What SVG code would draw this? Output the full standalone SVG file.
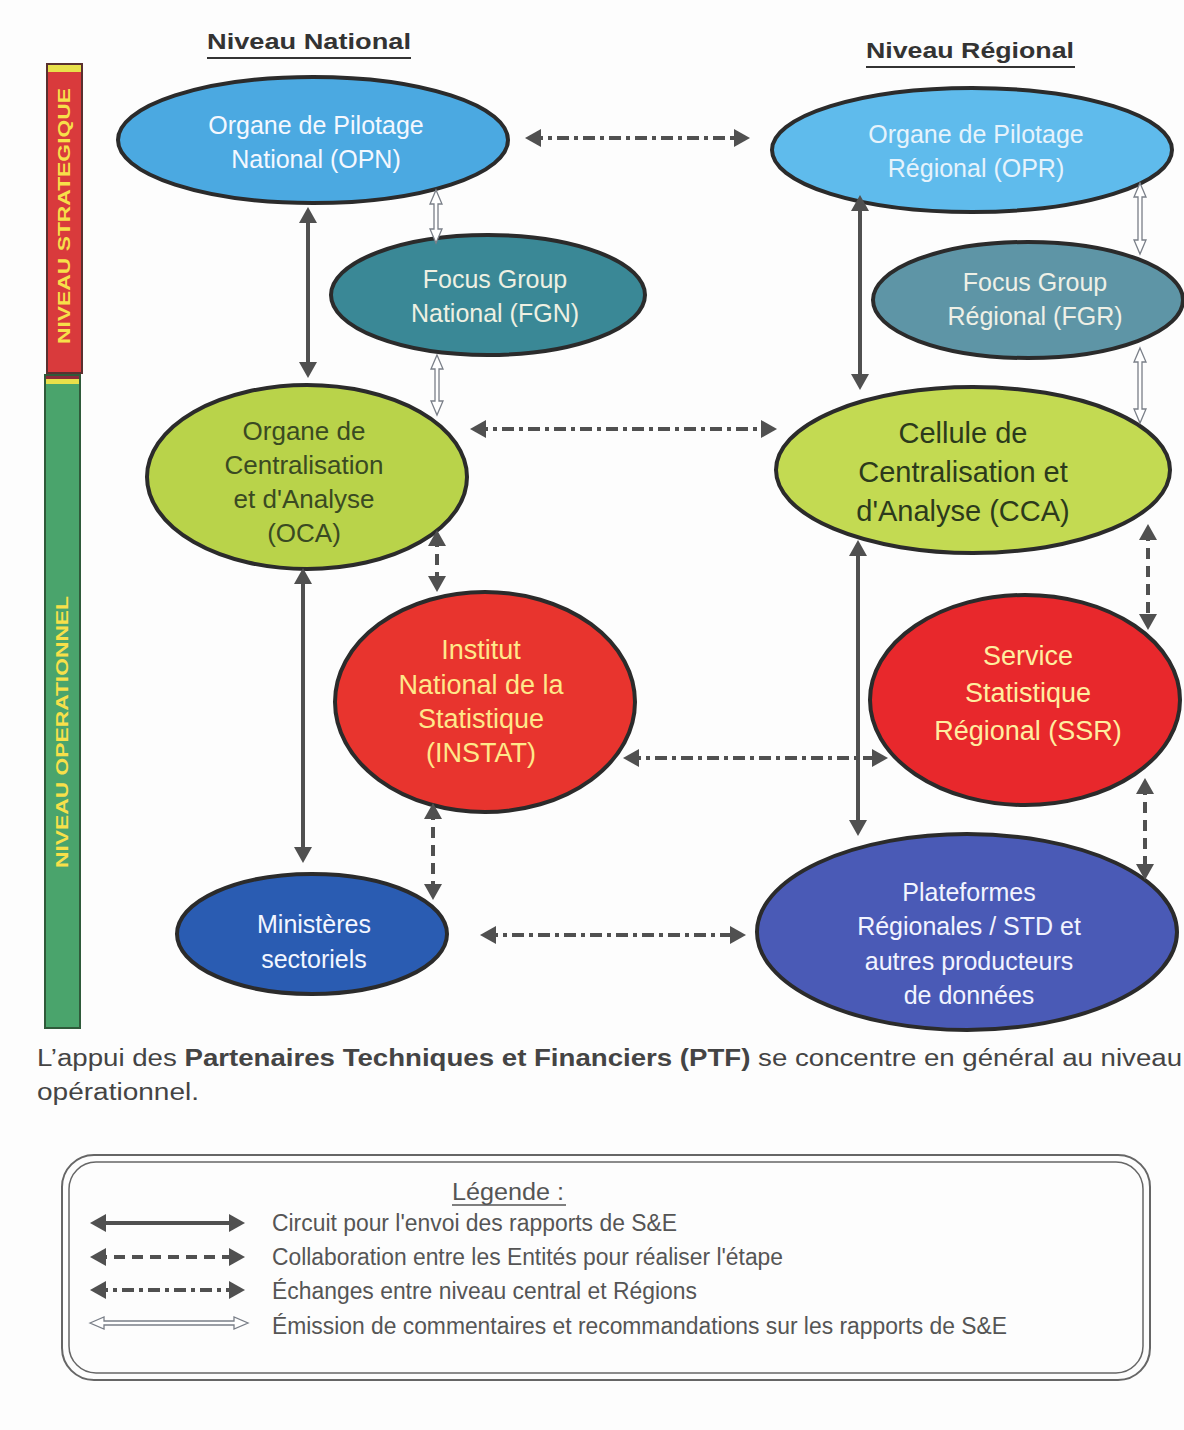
<svg xmlns="http://www.w3.org/2000/svg" width="1184" height="1430" viewBox="0 0 1184 1430">
  <defs>
    <style>
      .node { stroke: #2b2b2b; stroke-width: 4; }
      .nt { font-family: "Liberation Sans", Arial, sans-serif; text-anchor: middle; }
      .hdr { font-family: "Liberation Sans", Arial, sans-serif; font-weight: bold; font-size: 22px; fill: #333; text-anchor: middle; }
      .bar { font-family: "Liberation Sans", Arial, sans-serif; font-weight: bold; font-size: 16px; fill: #f7e04a; text-anchor: middle; }
      .solid { stroke: #505050; stroke-width: 4; fill: none; }
      .dash { stroke: #505050; stroke-width: 4; fill: none; stroke-dasharray: 11 7; }
      .dashdot { stroke: #505050; stroke-width: 4; fill: none; stroke-dasharray: 12 5 4 5; }
      .hollow { fill: #ffffff; stroke: #7a7f88; stroke-width: 1.3; }
      .leg { font-family: "Liberation Sans", Arial, sans-serif; font-size: 23px; fill: #555; }
      .para { font-family: "Liberation Sans", Arial, sans-serif; font-size: 23px; fill: #444; }
    </style>
    <marker id="ah" viewBox="0 0 16 18" refX="10" refY="9" markerWidth="16" markerHeight="18" markerUnits="userSpaceOnUse" orient="auto-start-reverse">
      <path d="M0,0 L16,9 L0,18 z" fill="#505050"/>
    </marker>
  </defs>

  <rect x="0" y="0" width="1184" height="1430" fill="#fdfdfd"/>

  <!-- Side bars -->
  <g id="bar-strategique">
    <rect x="47" y="64" width="35" height="309" fill="#d93a3c" stroke="#5a3030" stroke-width="2"/>
    <rect x="48" y="65" width="33" height="7" fill="#e8e04a"/>
    <text class="bar" transform="translate(70,216) rotate(-90)" textLength="256" lengthAdjust="spacingAndGlyphs">NIVEAU STRATEGIQUE</text>
  </g>
  <g id="bar-operationnel">
    <rect x="45" y="375" width="35" height="653" fill="#4aa46c" stroke="#2f5a3a" stroke-width="2"/>
    <rect x="46" y="376" width="33" height="3" fill="#8a2a3a"/>
    <rect x="46" y="379" width="33" height="5" fill="#e8e04a"/>
    <text class="bar" transform="translate(68,732) rotate(-90)" textLength="272" lengthAdjust="spacingAndGlyphs">NIVEAU OPERATIONNEL</text>
  </g>

  <!-- Headers -->
  <g id="hdr-national">
    <text class="hdr" x="309" y="49" textLength="204" lengthAdjust="spacingAndGlyphs">Niveau National</text>
    <line x1="207" y1="58" x2="411" y2="58" stroke="#333" stroke-width="2"/>
  </g>
  <g id="hdr-regional">
    <text class="hdr" x="970" y="58" textLength="208" lengthAdjust="spacingAndGlyphs">Niveau Régional</text>
    <line x1="866" y1="67" x2="1075" y2="67" stroke="#333" stroke-width="2"/>
  </g>

  <!-- Nodes -->
  <g id="opn">
    <ellipse class="node" cx="313" cy="140" rx="195" ry="63" fill="#4ba9e1"/>
    <text class="nt" font-size="25" fill="#f4f8ff"><tspan x="316" y="134">Organe de Pilotage</tspan><tspan x="316" y="168">National (OPN)</tspan></text>
  </g>
  <g id="opr">
    <ellipse class="node" cx="972" cy="150" rx="200" ry="62" fill="#5fbbec"/>
    <text class="nt" font-size="25" fill="#e6f3fc"><tspan x="976" y="143">Organe de Pilotage</tspan><tspan x="976" y="177">Régional (OPR)</tspan></text>
  </g>
  <g id="fgn">
    <ellipse class="node" cx="488" cy="295" rx="157" ry="60" fill="#3a8896"/>
    <text class="nt" font-size="25" fill="#eef0e2"><tspan x="495" y="288">Focus Group</tspan><tspan x="495" y="322">National (FGN)</tspan></text>
  </g>
  <g id="fgr">
    <ellipse class="node" cx="1028" cy="300" rx="155" ry="58" fill="#5e95a6"/>
    <text class="nt" font-size="25" fill="#eef0e6"><tspan x="1035" y="291">Focus Group</tspan><tspan x="1035" y="325">Régional (FGR)</tspan></text>
  </g>
  <g id="oca">
    <ellipse class="node" cx="307" cy="477" rx="160" ry="92" fill="#b9d34a"/>
    <text class="nt" font-size="26" fill="#3a4a22"><tspan x="304" y="440">Organe de</tspan><tspan x="304" y="474">Centralisation</tspan><tspan x="304" y="508">et d'Analyse</tspan><tspan x="304" y="542">(OCA)</tspan></text>
  </g>
  <g id="cca">
    <ellipse class="node" cx="973" cy="470" rx="197" ry="83" fill="#c3da52"/>
    <text class="nt" font-size="29" fill="#2c3a1c"><tspan x="963" y="443">Cellule de</tspan><tspan x="963" y="482">Centralisation et</tspan><tspan x="963" y="521">d'Analyse (CCA)</tspan></text>
  </g>
  <g id="instat">
    <ellipse class="node" cx="485" cy="702" rx="150" ry="110" fill="#e8342e"/>
    <text class="nt" font-size="27" fill="#ffe88a"><tspan x="481" y="659">Institut</tspan><tspan x="481" y="694">National de la</tspan><tspan x="481" y="728">Statistique</tspan><tspan x="481" y="762">(INSTAT)</tspan></text>
  </g>
  <g id="ssr">
    <ellipse class="node" cx="1025" cy="700" rx="155" ry="105" fill="#e8282c"/>
    <text class="nt" font-size="27" fill="#ffeea0"><tspan x="1028" y="665">Service</tspan><tspan x="1028" y="702">Statistique</tspan><tspan x="1028" y="740">Régional (SSR)</tspan></text>
  </g>
  <g id="ministeres">
    <ellipse class="node" cx="312" cy="934" rx="135" ry="60" fill="#2a5cb2"/>
    <text class="nt" font-size="25" fill="#f2f6ff"><tspan x="314" y="933">Ministères</tspan><tspan x="314" y="968">sectoriels</tspan></text>
  </g>
  <g id="plateformes">
    <ellipse class="node" cx="967" cy="932" rx="210" ry="98" fill="#4a5ab6"/>
    <text class="nt" font-size="25" fill="#f2f4ff"><tspan x="969" y="901">Plateformes</tspan><tspan x="969" y="935">Régionales / STD et</tspan><tspan x="969" y="970">autres producteurs</tspan><tspan x="969" y="1004">de données</tspan></text>
  </g>

  <!-- Connectors -->
  <g id="connectors">
    <line class="dashdot" x1="531" y1="138" x2="744" y2="138" marker-start="url(#ah)" marker-end="url(#ah)"/>
    <line class="solid" x1="308" y1="213" x2="308" y2="372" marker-start="url(#ah)" marker-end="url(#ah)"/>
    <line class="solid" x1="860" y1="201" x2="860" y2="384" marker-start="url(#ah)" marker-end="url(#ah)"/>
    <line class="dashdot" x1="476" y1="429" x2="771" y2="429" marker-start="url(#ah)" marker-end="url(#ah)"/>
    <line class="dash" x1="437" y1="536" x2="437" y2="586" marker-start="url(#ah)" marker-end="url(#ah)"/>
    <line class="solid" x1="303" y1="574" x2="303" y2="857" marker-start="url(#ah)" marker-end="url(#ah)"/>
    <line class="dash" x1="433" y1="809" x2="433" y2="894" marker-start="url(#ah)" marker-end="url(#ah)"/>
    <line class="dashdot" x1="629" y1="758" x2="882" y2="758" marker-start="url(#ah)" marker-end="url(#ah)"/>
    <line class="solid" x1="858" y1="546" x2="858" y2="830" marker-start="url(#ah)" marker-end="url(#ah)"/>
    <line class="dash" x1="1148" y1="530" x2="1148" y2="624" marker-start="url(#ah)" marker-end="url(#ah)"/>
    <line class="dash" x1="1145" y1="784" x2="1145" y2="874" marker-start="url(#ah)" marker-end="url(#ah)"/>
    <line class="dashdot" x1="486" y1="935" x2="740" y2="935" marker-start="url(#ah)" marker-end="url(#ah)"/>
    <polygon class="hollow" points="436,190 442,204 438,204 438,229 442,229 436,243 430,229 434,229 434,204 430,204"/>
    <polygon class="hollow" points="437,355 443,369 439,369 439,401 443,401 437,415 431,401 435,401 435,369 431,369"/>
    <polygon class="hollow" points="1140,183 1146,197 1142,197 1142,240 1146,240 1140,254 1134,240 1138,240 1138,197 1134,197"/>
    <polygon class="hollow" points="1140,348 1146,362 1142,362 1142,409 1146,409 1140,423 1134,409 1138,409 1138,362 1134,362"/>
  </g>

  <!-- Paragraph -->
  <g id="note">
    <text class="para" x="37" y="1066" textLength="1145" lengthAdjust="spacingAndGlyphs">L’appui des <tspan font-weight="bold">Partenaires Techniques et Financiers (PTF)</tspan> se concentre en général au niveau</text>
    <text class="para" x="37" y="1100" textLength="162" lengthAdjust="spacingAndGlyphs">opérationnel.</text>
  </g>

  <!-- Legend -->
  <g id="legend">
    <rect x="62" y="1155" width="1088" height="225" rx="32" fill="none" stroke="#666" stroke-width="2"/>
    <rect x="69" y="1162" width="1074" height="211" rx="27" fill="none" stroke="#666" stroke-width="1.5"/>
    <text class="leg" x="508" y="1200" text-anchor="middle" textLength="112" lengthAdjust="spacingAndGlyphs">Légende :</text>
    <line x1="452" y1="1205" x2="566" y2="1205" stroke="#555" stroke-width="1.5"/>
    <line class="solid" x1="96" y1="1223" x2="239" y2="1223" marker-start="url(#ah)" marker-end="url(#ah)"/>
    <line class="dash" x1="96" y1="1257" x2="239" y2="1257" marker-start="url(#ah)" marker-end="url(#ah)"/>
    <line class="dashdot" x1="96" y1="1290" x2="239" y2="1290" marker-start="url(#ah)" marker-end="url(#ah)"/>
    <polygon class="hollow" points="90,1323 104,1317 104,1321 234,1321 234,1317 248,1323 234,1329 234,1325 104,1325 104,1329"/>
    <text class="leg" x="272" y="1231" textLength="405" lengthAdjust="spacingAndGlyphs">Circuit pour l'envoi des rapports de S&amp;E</text>
    <text class="leg" x="272" y="1265" textLength="511" lengthAdjust="spacingAndGlyphs">Collaboration entre les Entités pour réaliser l'étape</text>
    <text class="leg" x="272" y="1299" textLength="425" lengthAdjust="spacingAndGlyphs">Échanges entre niveau central et Régions</text>
    <text class="leg" x="272" y="1334" textLength="735" lengthAdjust="spacingAndGlyphs">Émission de commentaires et recommandations sur les rapports de S&amp;E</text>
  </g>
</svg>
